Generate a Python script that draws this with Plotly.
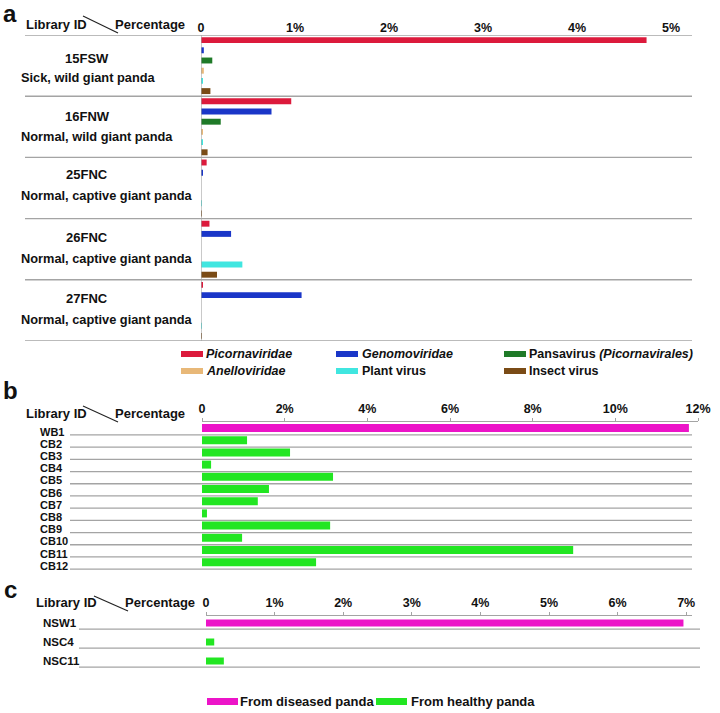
import plotly.graph_objects as go

W, H = 720, 713
def X(px): return px / W
def Y(px): return 1 - px / H

FONT = "Liberation Sans, Arial, sans-serif"

# ---------------- Data ----------------
a_ids = ["15FSW", "16FNW", "25FNC", "26FNC", "27FNC"]
a_desc = ["Sick, wild giant panda", "Normal, wild giant panda", "Normal, captive giant panda",
          "Normal, captive giant panda", "Normal, captive giant panda"]
a_series = ["Picornaviridae", "Genomoviridae", "Pansavirus", "Anelloviridae", "Plant virus", "Insect virus"]
a_legend_text = ["<i>Picornaviridae</i>", "<i>Genomoviridae</i>", "Pansavirus <i>(Picornavirales)</i>",
                 "<i>Anelloviridae</i>", "Plant virus", "Insect virus"]
a_picornaviridae = [4.74, 0.96, 0.06, 0.09, 0.02]
a_genomoviridae = [0.03, 0.75, 0.02, 0.32, 1.07]
a_pansavirus = [0.12, 0.21, 0.0, 0.0, 0.0]
a_anelloviridae = [0.03, 0.02, 0.0, 0.0, 0.0]
a_plant_virus = [0.02, 0.02, 0.01, 0.44, 0.01]
a_insect_virus = [0.10, 0.07, 0.01, 0.17, 0.01]
a_ticks = [0, 1, 2, 3, 4, 5]
a_ticktext = ["0", "1%", "2%", "3%", "4%", "5%"]

b_ids = ["WB1", "CB2", "CB3", "CB4", "CB5", "CB6", "CB7", "CB8", "CB9", "CB10", "CB11", "CB12"]
b_values = [11.78, 1.09, 2.13, 0.22, 3.17, 1.62, 1.35, 0.12, 3.10, 0.97, 8.98, 2.76]
b_ticks = [0, 2, 4, 6, 8, 10, 12]
b_ticktext = ["0", "2%", "4%", "6%", "8%", "10%", "12%"]

c_ids = ["NSW1", "NSC4", "NSC11"]
c_values = [6.96, 0.12, 0.26]
c_ticks = [0, 1, 2, 3, 4, 5, 6, 7]
c_ticktext = ["0", "1%", "2%", "3%", "4%", "5%", "6%", "7%"]

source_labels = ["From diseased panda", "From healthy panda"]

# ---------------- Styles ----------------
a_colors = ["#dc1a3c", "#1a36c8", "#1f7a28", "#e8b878", "#40e6e0", "#7a4b16"]
DIS = "#ec14c8"
HEA = "#22e622"
GRID = "#a4a4a4"

a_values = [a_picornaviridae, a_genomoviridae, a_pansavirus, a_anelloviridae, a_plant_virus, a_insect_virus]

fig = go.Figure()

# Panel a bars
for name, vals, col in zip(a_series, a_values, a_colors):
    fig.add_trace(go.Bar(y=a_ids, x=vals, orientation="h", name=name, marker_color=col,
                         marker_line_width=0, xaxis="x", yaxis="y", showlegend=False))

# Panel b bars
b_cols = [DIS] + [HEA] * (len(b_ids) - 1)
fig.add_trace(go.Bar(y=b_ids, x=b_values, orientation="h", marker_color=b_cols, marker_line_width=0,
                     width=8 / 12.2, xaxis="x2", yaxis="y2", showlegend=False))

# Panel c bars
c_cols = [DIS] + [HEA] * (len(c_ids) - 1)
fig.add_trace(go.Bar(y=c_ids, x=c_values, orientation="h", marker_color=c_cols, marker_line_width=0,
                     width=7 / 19, xaxis="x3", yaxis="y3", showlegend=False))

tickfont = dict(family=FONT, size=12.5, color="#111")

def xax(domain, rng, tv, tt, anchor, showline):
    return dict(domain=domain, range=rng, tickvals=tv, ticktext=[f"<b>{t}</b>" for t in tt],
                side="top", anchor=anchor, showgrid=False, zeroline=False, automargin=False,
                showline=showline, linecolor=GRID, linewidth=1.3,
                ticks="outside" if showline else "", ticklen=3, tickcolor=GRID,
                tickfont=tickfont, fixedrange=True)

def yax(domain, rng, cats, anchor):
    return dict(domain=domain, range=rng, type="category", categoryorder="array", categoryarray=cats,
                showticklabels=False, showgrid=False, zeroline=False, showline=False, automargin=False,
                anchor=anchor, fixedrange=True)

a_top, a_bot = 35, 341
b_top, b_bot, b_c0, b_step = 422, 570, 428, 12.2
c_top, c_bot, c_c0, c_step = 616, 672, 623, 19

layout = dict(
    width=W, height=H, autosize=False, margin=dict(l=0, r=0, t=0, b=0, pad=0, autoexpand=False),
    paper_bgcolor="white", plot_bgcolor="rgba(0,0,0,0)",
    barmode="group", bargap=0.0, bargroupgap=0.42,
    font=dict(family=FONT, color="#111"),
    xaxis=xax([X(201), X(692)], [0, (692 - 201) / 94], a_ticks, a_ticktext, "y", False),
    yaxis=yax([Y(a_bot), Y(a_top)], [len(a_ids) - 0.5, -0.5], a_ids, "x"),
    xaxis2=xax([X(202), X(698)], [0, 12], b_ticks, b_ticktext, "y2", True),
    yaxis2=yax([Y(b_bot), Y(b_top)], [(b_bot - b_c0) / b_step, (b_top - b_c0) / b_step], b_ids, "x2"),
    xaxis3=xax([X(206), X(692)], [0, (692 - 206) / 68.6], c_ticks, c_ticktext, "y3", True),
    yaxis3=yax([Y(c_bot), Y(c_top)], [(c_bot - c_c0) / c_step, (c_top - c_c0) / c_step], c_ids, "x3"),
)
fig.update_layout(**layout)

shapes = []
ann = []

def line_px(x0, y0, x1, y1, color=GRID, w=1.3):
    shapes.append(dict(type="line", xref="paper", yref="paper", x0=X(x0), y0=Y(y0), x1=X(x1), y1=Y(y1),
                       line=dict(color=color, width=w)))

def text_px(x, y, s, size=13, xanchor="left"):
    ann.append(dict(x=X(x), y=Y(y), xref="paper", yref="paper", text=s,
                    showarrow=False, xanchor=xanchor, yanchor="middle",
                    font=dict(family=FONT, size=size, color="#111")))

# Panel letters
text_px(1, 13, "<b>a</b>", size=24)
text_px(1, 391, "<b>b</b>", size=24)
text_px(2, 589, "<b>c</b>", size=24)

# Headers
for (lx, px_, y, d) in [(24, 113, 24, (83, 16, 118, 33)), (24, 113, 413, (83, 406, 118, 422)),
                        (34, 123, 602, (94, 596, 128, 611))]:
    text_px(lx, y, "<b>Library ID</b>", size=13)
    text_px(px_, y, "<b>Percentage</b>", size=13)
    line_px(d[0], d[1], d[2], d[3], color="#222", w=1.2)

# Panel a separators and labels
for i in range(len(a_ids) + 1):
    shapes.append(dict(type="line", xref="paper", yref="y", x0=X(25), x1=X(692), y0=i - 0.5, y1=i - 0.5,
                       line=dict(color=GRID, width=1.4)))
shapes.append(dict(type="line", xref="x", yref="paper", x0=0, x1=0, y0=Y(a_top), y1=Y(a_bot),
                   line=dict(color=GRID, width=1.2)))
id_off = [-0.11, -0.17, -0.22, -0.19, -0.19]
desc_off = [0.2, 0.16, 0.12, 0.15, 0.15]
for i, (idn, desc) in enumerate(zip(a_ids, a_desc)):
    ann.append(dict(x=X(87), y=i + id_off[i], xref="paper", yref="y", text=f"<b>{idn}</b>", showarrow=False,
                    xanchor="center", yanchor="middle", font=dict(family=FONT, size=13, color="#111")))
    ann.append(dict(x=X(19), y=i + desc_off[i], xref="paper", yref="y", text=f"<b>{desc}</b>",
                    showarrow=False, xanchor="left", yanchor="middle",
                    font=dict(family=FONT, size=12.8, color="#111")))

# Panel a legend
leg_x = [(181, 204), (336, 360), (504, 527)]
leg_y = [354, 371]
for k, (txt, col) in enumerate(zip(a_legend_text, a_colors)):
    r, cidx = divmod(k, 3)
    sx, tx = leg_x[cidx]
    yy = leg_y[r]
    shapes.append(dict(type="rect", xref="paper", yref="paper", x0=X(sx), x1=X(sx + 22),
                       y0=Y(yy + 3), y1=Y(yy - 3), fillcolor=col, line=dict(width=0)))
    text_px(tx, yy, f"<b>{txt}</b>", size=12.5)

# Panel b lines and labels
for i, idn in enumerate(b_ids):
    shapes.append(dict(type="line", xref="paper", yref="y2", x0=X(70), x1=X(692), y0=i + 0.57, y1=i + 0.57,
                       line=dict(color=GRID, width=1.3)))
    ann.append(dict(x=X(38), y=i + 0.3, xref="paper", yref="y2", text=f"<b>{idn}</b>", showarrow=False,
                    xanchor="left", yanchor="middle", font=dict(family=FONT, size=11, color="#111")))

# Panel c lines and labels
for i, idn in enumerate(c_ids):
    shapes.append(dict(type="line", xref="paper", yref="y3", x0=X(79), x1=X(700), y0=i + 0.32, y1=i + 0.32,
                       line=dict(color=GRID, width=1.3)))
    ann.append(dict(x=X(41), y=i, xref="paper", yref="y3", text=f"<b>{idn}</b>", showarrow=False,
                    xanchor="left", yanchor="middle", font=dict(family=FONT, size=11.5, color="#111")))

# Bottom legend
for (sx, tx), lab, col in zip([(207, 238), (376, 409)], source_labels, [DIS, HEA]):
    shapes.append(dict(type="rect", xref="paper", yref="paper", x0=X(sx), x1=X(sx + 31),
                       y0=Y(705), y1=Y(698), fillcolor=col, line=dict(width=0)))
    text_px(tx, 701, f"<b>{lab}</b>", size=13)

fig.update_layout(shapes=shapes, annotations=ann)
post = ("document.body.style.margin='0';document.documentElement.style.overflow='hidden';"
        "document.body.style.overflow='hidden';")
fig.write_html("out.html", config={"displayModeBar": False, "responsive": False}, post_script=post)
